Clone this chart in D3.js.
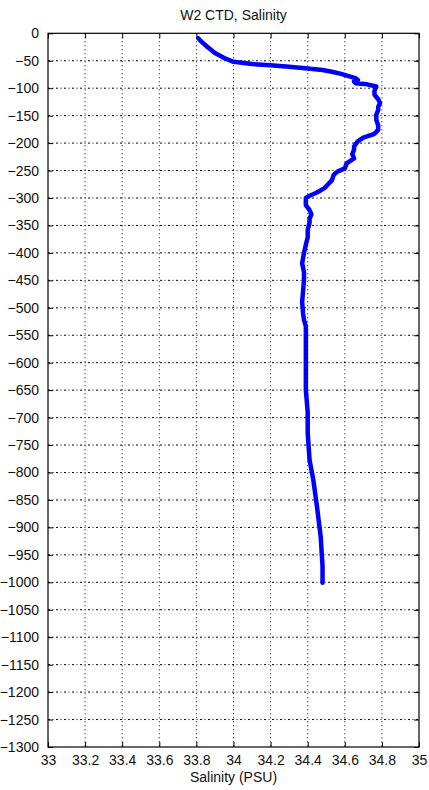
<!DOCTYPE html>
<html><head><meta charset="utf-8">
<script src="https://cdn.jsdelivr.net/npm/d3@7/dist/d3.min.js"></script>
<style>
body{margin:0;background:#fff;}
text{font-family:"Liberation Sans",Arial,sans-serif;fill:#111;}
</style></head>
<body><svg id="c" width="429" height="790"></svg>
<script>
const title = "W2 CTD, Salinity";
const xLabel = "Salinity (PSU)";
const xTicks = [33,33.2,33.4,33.6,33.8,34,34.2,34.4,34.6,34.8,35];
const yTicks = d3.range(0,-1301,-50);
const depth = [-9,-16,-25,-36,-45,-52,-56,-58,-61,-64,-67,-70,-74,-79,-82,-85,-88,-91,-93,-97,-105,-112,-120,-127,-134,-140,-148,-158,-168,-176,-183,-190,-197,-206,-212,-220,-228,-237,-246,-252,-258,-268,-275,-282,-290,-296,-300,-313,-322,-330,-338,-345,-358,-372,-385,-400,-419,-435,-449,-470,-489,-510,-522,-534,-560,-600,-650,-690,-728,-777,-813,-862,-917,-971,-1001];
const salinity = [33.81,33.83,33.86,33.90,33.95,34.00,34.10,34.20,34.30,34.40,34.48,34.53,34.58,34.63,34.66,34.67,34.65,34.66,34.72,34.77,34.76,34.76,34.78,34.79,34.78,34.78,34.77,34.77,34.78,34.78,34.76,34.70,34.67,34.65,34.65,34.64,34.65,34.61,34.60,34.56,34.54,34.53,34.51,34.49,34.45,34.41,34.39,34.39,34.41,34.42,34.41,34.41,34.40,34.40,34.39,34.38,34.37,34.38,34.38,34.375,34.37,34.375,34.38,34.39,34.39,34.39,34.39,34.40,34.40,34.41,34.43,34.45,34.47,34.48,34.48];

const svg = d3.select("#c");
const L=48, R=419, T=33.3, B=747;
const x = d3.scaleLinear().domain([33,35]).range([L,R]);
const y = d3.scaleLinear().domain([0,-1300]).range([T,B]);
const fmtY = d => d===0 ? "0" : "\u2212"+Math.abs(d);

// grid
const g = svg.append("g");
g.selectAll(".gx").data(xTicks.slice(1,-1)).join("line")
  .attr("x1",d=>x(d)).attr("x2",d=>x(d)).attr("y1",T).attr("y2",B)
  .attr("stroke","#000").attr("stroke-width",1).attr("stroke-dasharray","1,3");
g.selectAll(".gy").data(yTicks.slice(1,-1)).join("line")
  .attr("y1",d=>y(d)).attr("y2",d=>y(d)).attr("x1",L).attr("x2",R)
  .attr("stroke","#000").attr("stroke-width",1).attr("stroke-dasharray","2,2.5,1,2.5");

// axes with inward ticks
const ax = d3.axisBottom(x).tickValues(xTicks).tickSize(-5).tickFormat(d3.format("")).tickPadding(8);
const ay = d3.axisLeft(y).tickValues(yTicks).tickSize(-5).tickFormat(fmtY).tickPadding(9);
const axT = d3.axisTop(x).tickValues(xTicks).tickSize(-5).tickFormat("");
const ayR = d3.axisRight(y).tickValues(yTicks).tickSize(-5).tickFormat("");
function style(sel){sel.select(".domain").remove();sel.selectAll("line").attr("stroke","#000");
  sel.selectAll("text").style("font-family","'Liberation Sans',Arial,sans-serif").style("font-size","14px").attr("fill","#111");}
svg.append("g").attr("transform",`translate(0,${B})`).call(ax).call(style);
svg.append("g").attr("transform",`translate(${L},0)`).call(ay).call(style);
svg.append("g").attr("transform",`translate(0,${T})`).call(axT).call(style);
svg.append("g").attr("transform",`translate(${R},0)`).call(ayR).call(style);

// frame
svg.append("rect").attr("x",L).attr("y",T).attr("width",R-L).attr("height",B-T)
  .attr("fill","none").attr("stroke","#000").attr("stroke-width",1.2);

// line
const pts = depth.map((d,i)=>[salinity[i],d]);
svg.append("path").datum(pts)
  .attr("d", d3.line().x(d=>x(d[0])).y(d=>y(d[1])))
  .attr("fill","none").attr("stroke","#0000ff").attr("stroke-width",4.5)
  .attr("stroke-linejoin","round").attr("stroke-linecap","round");

svg.append("text").attr("x",(L+R)/2).attr("y",20).attr("text-anchor","middle")
  .style("font-size","14px").text(title);
svg.append("text").attr("x",(L+R)/2).attr("y",782).attr("text-anchor","middle")
  .style("font-size","14px").text(xLabel);
</script></body></html>
